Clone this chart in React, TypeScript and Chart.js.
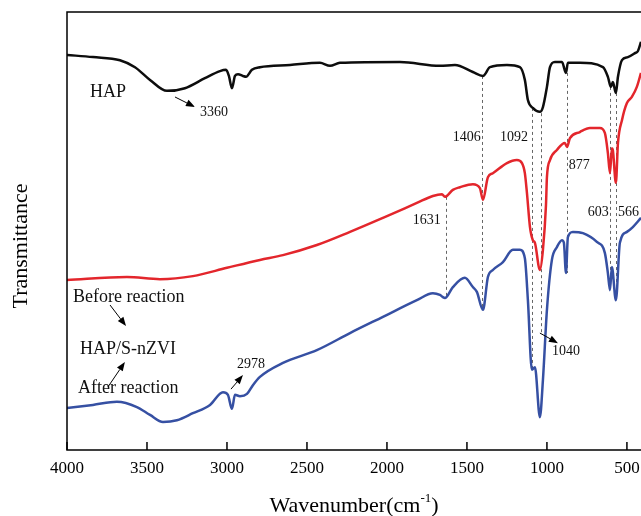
import React, { useEffect, useRef } from "react";
import { Chart, registerables } from "chart.js";
Chart.register(...registerables);

// ---- data (wavenumber in cm^-1, transmittance in arbitrary units) ----
const hapWn = [4000,3838,3669,3575,3481,3375,3263,3138,3044,3006,2988,2969,2950,2931,2900,2881,2844,2794,2606,2419,2356,2294,1919,1669,1575,1463,1400,1356,1250,1169,1138,1119,1088,1044,1025,1000,981,950,906,881,869,794,650,619,600,588,569,556,531,494,450,431,412];
const hapT = [90.2,89.7,89.0,87.4,84.5,82.0,82.6,84.9,86.5,86.8,85.4,82.6,85.4,85.8,85.4,85.2,86.8,87.4,87.9,88.4,87.7,88.4,88.6,87.7,87.9,86.3,85.4,87.4,87.9,87.4,84.5,79.9,78.1,77.2,78.3,82.9,87.4,88.6,88.6,86.1,88.4,88.4,87.4,85.2,82.9,84.0,81.5,85.2,89.0,89.7,90.6,91.1,93.2];

const beforeWn = [4000,3625,3419,3213,3000,2794,2650,2438,2231,2025,1813,1713,1656,1638,1588,1544,1463,1419,1400,1369,1338,1250,1188,1156,1138,1125,1106,1088,1075,1044,1025,1006,1000,981,938,888,875,856,794,731,669,638,619,606,594,588,569,556,531,500,469,438,412];
const beforeT = [38.8,39.5,39.0,39.7,41.6,43.4,44.5,46.8,49.8,53.0,56.4,58.0,58.4,57.8,59.4,60.0,60.7,59.8,57.1,62.3,63.2,65.5,66.2,65.5,63.2,58.7,50.9,47.9,47.3,41.1,45.7,55.9,62.3,66.2,68.5,70.1,69.2,71.2,72.6,73.5,73.5,72.4,67.8,63.2,68.9,68.5,61.0,70.1,75.3,79.2,80.6,82.9,86.1];

const afterWn = [4000,3838,3688,3563,3481,3400,3313,3213,3106,3025,2994,2969,2950,2919,2875,2838,2794,2650,2438,2231,2025,1813,1713,1669,1650,1638,1588,1513,1463,1438,1400,1369,1338,1275,1213,1169,1138,1119,1094,1075,1044,1025,1000,969,938,906,894,881,869,838,775,688,638,619,606,594,569,544,500,463,412];
const afterT = [9.6,10.3,11.0,9.8,8.0,6.4,6.8,8.4,10.3,13.2,12.6,9.4,12.6,12.3,12.8,14.8,16.7,19.9,22.8,26.7,30.4,34.2,35.8,35.4,34.9,34.7,37.2,39.3,37.2,36.1,32.0,39.5,41.1,42.9,45.7,45.7,43.8,34.2,18.3,18.9,7.5,16.0,32.0,43.4,46.3,47.9,47.3,40.4,48.6,49.8,49.5,47.5,45.0,40.4,36.5,41.8,34.2,47.3,49.8,50.9,53.0];

const tickValues = [4000, 3500, 3000, 2500, 2000, 1500, 1000, 500];
const xMin = 412;
const xMax = 4000;

const peakLines = [
  { wn: 1631, top: 57.8, bottom: 34.9 },
  { wn: 1406, top: 85.4, bottom: 32.0 },
  { wn: 1092, top: 78.1, bottom: 18.3 },
  { wn: 1040, top: 76.9, bottom: 26.7 },
  { wn: 877, top: 86.1, bottom: 40.4 },
  { wn: 603, top: 82.9, bottom: 36.5 },
  { wn: 566, top: 81.5, bottom: 34.2 },
];

const peakLabels = [
  { text: "3360", wn: 3169, t: 77.2, align: "left" },
  { text: "2978", wn: 2938, t: 19.6, align: "left" },
  { text: "1631", wn: 1663, t: 52.5, align: "right" },
  { text: "1406", wn: 1413, t: 71.5, align: "right" },
  { text: "1092", wn: 1119, t: 71.5, align: "right" },
  { text: "877", wn: 863, t: 65.1, align: "left" },
  { text: "1040", wn: 969, t: 22.6, align: "left" },
  { text: "603", wn: 613, t: 54.3, align: "right" },
  { text: "566", wn: 556, t: 54.3, align: "left" },
];

const curveLabels = [
  { text: "HAP", wn: 3856, t: 81.7 },
  { text: "Before reaction", wn: 3962, t: 34.9 },
  { text: "HAP/S-nZVI", wn: 3919, t: 23.1 },
  { text: "After reaction", wn: 3931, t: 14.2 },
];

const arrows = [
  { from: [3325, 80.6], to: [3200, 78.3] },
  { from: [2975, 13.9], to: [2900, 17.1] },
  { from: [1044, 26.7], to: [931, 24.4] },
  { from: [3731, 33.1], to: [3631, 28.3] },
  { from: [3744, 14.4], to: [3638, 20.1] },
];

const FONT = "'Liberation Serif', 'DejaVu Serif', 'Times New Roman', serif";

const toXY = (wn: number[], t: number[]) => wn.map((w, i) => ({ x: w, y: t[i] }));

const framePlugin = {
  id: "frameAndNotes",
  beforeDatasetsDraw(chart: any) {
    const { ctx, scales } = chart;
    const x = scales.x, y = scales.y;
    ctx.save();
    ctx.strokeStyle = "#666";
    ctx.lineWidth = 1;
    ctx.setLineDash([3, 3]);
    for (const l of peakLines) {
      const px = Math.round(x.getPixelForValue(l.wn)) + 0.5;
      ctx.beginPath();
      ctx.moveTo(px, y.getPixelForValue(l.top));
      ctx.lineTo(px, y.getPixelForValue(l.bottom));
      ctx.stroke();
    }
    ctx.restore();
  },
  afterDraw(chart: any) {
    const { ctx, chartArea: a, scales } = chart;
    const x = scales.x, y = scales.y;
    ctx.save();
    // frame
    ctx.strokeStyle = "#000";
    ctx.lineWidth = 1.5;
    ctx.beginPath();
    ctx.moveTo(a.right + 2, a.top);
    ctx.lineTo(a.left, a.top);
    ctx.lineTo(a.left, a.bottom);
    ctx.lineTo(a.right + 2, a.bottom);
    ctx.stroke();
    // inward ticks
    ctx.lineWidth = 1.5;
    for (const v of tickValues) {
      const px = x.getPixelForValue(v);
      ctx.beginPath();
      ctx.moveTo(px, a.bottom);
      ctx.lineTo(px, a.bottom - 8);
      ctx.stroke();
    }
    // peak labels
    ctx.fillStyle = "#111";
    ctx.textBaseline = "middle";
    ctx.font = `14px ${FONT}`;
    for (const p of peakLabels) {
      ctx.textAlign = p.align as CanvasTextAlign;
      ctx.fillText(p.text, x.getPixelForValue(p.wn), y.getPixelForValue(p.t));
    }
    // curve labels
    ctx.font = `18px ${FONT}`;
    ctx.textAlign = "left";
    for (const c of curveLabels) {
      ctx.fillText(c.text, x.getPixelForValue(c.wn), y.getPixelForValue(c.t));
    }
    // arrows
    ctx.strokeStyle = "#000";
    ctx.fillStyle = "#000";
    ctx.lineWidth = 1;
    for (const ar of arrows) {
      const x1 = x.getPixelForValue(ar.from[0]);
      const y1 = y.getPixelForValue(ar.from[1]);
      const x2 = x.getPixelForValue(ar.to[0]);
      const y2 = y.getPixelForValue(ar.to[1]);
      const ang = Math.atan2(y2 - y1, x2 - x1);
      const hl = 9, hw = 3.5;
      const bx = x2 - hl * Math.cos(ang), by = y2 - hl * Math.sin(ang);
      ctx.beginPath();
      ctx.moveTo(x1, y1);
      ctx.lineTo(bx, by);
      ctx.stroke();
      ctx.beginPath();
      ctx.moveTo(x2, y2);
      ctx.lineTo(bx + hw * Math.sin(ang), by - hw * Math.cos(ang));
      ctx.lineTo(bx - hw * Math.sin(ang), by + hw * Math.cos(ang));
      ctx.closePath();
      ctx.fill();
    }
    // axis titles
    ctx.fillStyle = "#000";
    ctx.textBaseline = "alphabetic";
    ctx.textAlign = "left";
    const main = "Wavenumber(cm";
    ctx.font = `22px ${FONT}`;
    const wMain = ctx.measureText(main).width;
    ctx.font = `13px ${FONT}`;
    const wSup = ctx.measureText("-1").width;
    ctx.font = `22px ${FONT}`;
    const wClose = ctx.measureText(")").width;
    const total = wMain + wSup + wClose;
    let sx = (a.left + a.right) / 2 - total / 2;
    const by = 512;
    ctx.fillText(main, sx, by);
    sx += wMain;
    ctx.font = `13px ${FONT}`;
    ctx.fillText("-1", sx, by - 10);
    sx += wSup;
    ctx.font = `22px ${FONT}`;
    ctx.fillText(")", sx, by);
    // y title
    ctx.save();
    ctx.translate(21, 246);
    ctx.rotate(-Math.PI / 2);
    ctx.textAlign = "center";
    ctx.textBaseline = "middle";
    ctx.font = `22px ${FONT}`;
    ctx.fillText("Transmittance", 0, 0);
    ctx.restore();
    ctx.restore();
  },
};

export default function App() {
  const ref = useRef<HTMLCanvasElement>(null);
  useEffect(() => {
    if (!ref.current) return;
    const common = { pointRadius: 0, borderWidth: 2.5, fill: false, cubicInterpolationMode: "monotone" as const };
    const chart = new Chart(ref.current, {
      type: "line",
      data: {
        datasets: [
          { label: "HAP", data: toXY(hapWn, hapT), borderColor: "#0d0d0d", ...common },
          { label: "Before reaction", data: toXY(beforeWn, beforeT), borderColor: "#e3262c", ...common },
          { label: "After reaction", data: toXY(afterWn, afterT), borderColor: "#3650a3", ...common },
        ],
      },
      options: {
        responsive: false,
        animation: false,
        devicePixelRatio: 1,
        layout: { padding: { left: 67, top: 12, right: 0, bottom: 0 } },
        plugins: { legend: { display: false }, tooltip: { enabled: false } },
        scales: {
          x: {
            type: "linear",
            reverse: true,
            min: xMin,
            max: xMax,
            grid: { display: false, drawTicks: true, tickLength: 8 },
            border: { display: false },
            afterBuildTicks: (s: any) => {
              s.ticks = tickValues.map((v) => ({ value: v }));
            },
            afterFit: (s: any) => {
              s.height = 66;
            },
            ticks: {
              autoSkip: false,
              maxRotation: 0,
              padding: 0,
              color: "#000",
              font: { family: FONT, size: 17 },
              callback: (v: any) => String(v),
            },
          },
          y: { display: false, min: 0, max: 100 },
        },
      },
      plugins: [framePlugin],
    });
    return () => chart.destroy();
  }, []);
  return (
    <div style={{ position: "fixed", left: 0, top: 0, width: 641, height: 516, background: "#fff" }}>
      <canvas ref={ref} width={641} height={516} />
    </div>
  );
}
